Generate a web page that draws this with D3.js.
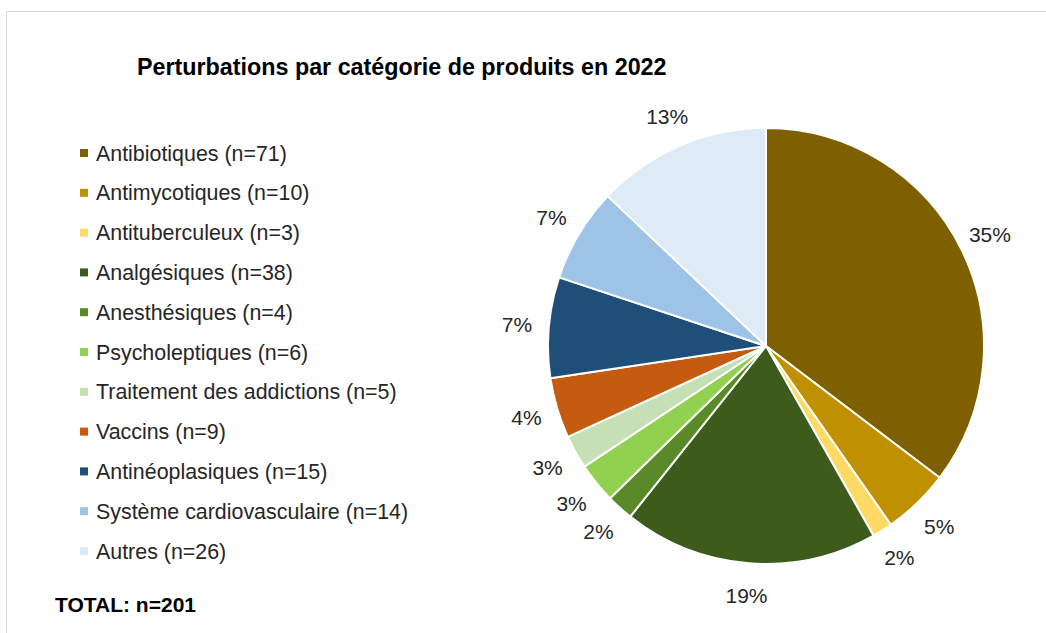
<!DOCTYPE html>
<html>
<head>
<meta charset="utf-8">
<script src="https://cdn.jsdelivr.net/npm/d3@7"></script>
<style>
  html, body { margin: 0; padding: 0; background: #fff; }
  svg { display: block; font-family: "Liberation Sans", Arial, sans-serif; }
</style>
</head>
<body>
<div id="chart"></div>
<script>
// Perturbations par catégorie de produits en 2022 — pie with legend on the left.
const categories = [
  "Antibiotiques", "Antimycotiques", "Antituberculeux", "Analgésiques",
  "Anesthésiques", "Psycholeptiques", "Traitement des addictions", "Vaccins",
  "Antinéoplasiques", "Système cardiovasculaire", "Autres"
];
const counts = [71, 10, 3, 38, 4, 6, 5, 9, 15, 14, 26];
const pctLabels = ["35%", "5%", "2%", "19%", "2%", "3%", "3%", "4%", "7%", "7%", "13%"];
const colors = [
  "#7F6000", "#BF9000", "#FFD966", "#3D5C1B", "#5A8A28", "#92D050",
  "#C5E0B4", "#C55A11", "#1F4E79", "#9DC3E6", "#DEEBF7"
];
const title = "Perturbations par catégorie de produits en 2022";
const totalLabel = "TOTAL: n=" + d3.sum(counts);

(function () {
  const W = 1046, H = 633;
  const CX = 766, CY = 346, R = 218, LABEL_R = 250;

  const svg = d3.select("#chart").append("svg")
    .attr("width", W).attr("height", H)
    .attr("viewBox", [0, 0, W, H]);

  // chart area frame (only top/left visible in the crop)
  svg.append("path")
    .attr("d", `M6.5,${H} V11.5 H${W}`)
    .attr("fill", "none")
    .attr("stroke", "#d9d9d9")
    .attr("stroke-width", 1);

  svg.append("text")
    .attr("x", 137).attr("y", 75)
    .attr("font-size", 23.3).attr("font-weight", "bold")
    .attr("fill", "#000")
    .text(title);

  // pie
  const data = categories.map((c, i) => ({ name: c, n: counts[i], color: colors[i], pct: pctLabels[i] }));
  const pie = d3.pie().value(d => d.n).sort(null);
  const arcs = pie(data);
  const arc = d3.arc().innerRadius(0).outerRadius(R);
  const labelArc = d3.arc().innerRadius(LABEL_R).outerRadius(LABEL_R);

  const g = svg.append("g").attr("transform", `translate(${CX},${CY})`);
  g.selectAll("path").data(arcs).join("path")
    .attr("d", arc)
    .attr("fill", d => d.data.color)
    .attr("stroke", "#fff")
    .attr("stroke-width", 2)
    .attr("stroke-linejoin", "round");

  g.selectAll("text").data(arcs).join("text")
    .attr("transform", d => `translate(${labelArc.centroid(d)})`)
    .attr("text-anchor", "middle")
    .attr("dy", "0.35em")
    .attr("font-size", 21)
    .attr("fill", "#262626")
    .text(d => d.data.pct);

  // legend
  const y = d3.scalePoint().domain(categories).range([153, 551]);
  const leg = svg.append("g");
  const row = leg.selectAll("g").data(data).join("g")
    .attr("transform", d => `translate(0,${y(d.name)})`);
  row.append("rect")
    .attr("x", 80).attr("y", -4).attr("width", 8).attr("height", 8)
    .attr("fill", d => d.color);
  row.append("text")
    .attr("x", 96).attr("dy", "0.35em")
    .attr("font-size", 21.4)
    .attr("fill", "#262626")
    .text(d => `${d.name} (n=${d.n})`);

  svg.append("text")
    .attr("x", 55).attr("y", 605).attr("dy", "0.35em")
    .attr("font-size", 21).attr("font-weight", "bold")
    .attr("fill", "#000")
    .text(totalLabel);
})();
</script>
</body>
</html>
